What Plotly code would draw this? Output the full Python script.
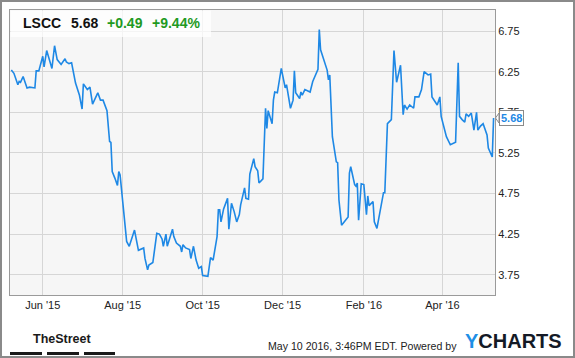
import plotly.graph_objects as go

dates = [
    "2015-05-08", "2015-05-10", "2015-05-13", "2015-05-14", "2015-05-15", "2015-05-17", "2015-05-20", "2015-05-22",
    "2015-05-26", "2015-05-27", "2015-05-29", "2015-06-01", "2015-06-02", "2015-06-04", "2015-06-08", "2015-06-10",
    "2015-06-12", "2015-06-15", "2015-06-18", "2015-06-19", "2015-06-21", "2015-06-23", "2015-06-26", "2015-06-29",
    "2015-07-01", "2015-07-02", "2015-07-05", "2015-07-07", "2015-07-09", "2015-07-13", "2015-07-15", "2015-07-17",
    "2015-07-20", "2015-07-22", "2015-07-23", "2015-07-24", "2015-07-26", "2015-07-28", "2015-07-29", "2015-07-30",
    "2015-08-04", "2015-08-06", "2015-08-10", "2015-08-12", "2015-08-13", "2015-08-17", "2015-08-18", "2015-08-20",
    "2015-08-21", "2015-08-24", "2015-08-27", "2015-08-29", "2015-08-31", "2015-09-01", "2015-09-03", "2015-09-04",
    "2015-09-08", "2015-09-09", "2015-09-11", "2015-09-14", "2015-09-15", "2015-09-16", "2015-09-18", "2015-09-21",
    "2015-09-22", "2015-09-24", "2015-09-26", "2015-09-28", "2015-09-30", "2015-10-01", "2015-10-05", "2015-10-07",
    "2015-10-09", "2015-10-12", "2015-10-13", "2015-10-14", "2015-10-15", "2015-10-17", "2015-10-20", "2015-10-21",
    "2015-10-23", "2015-10-25", "2015-10-27", "2015-10-29", "2015-10-30", "2015-11-02", "2015-11-03", "2015-11-05",
    "2015-11-06", "2015-11-09", "2015-11-10", "2015-11-12", "2015-11-13", "2015-11-16", "2015-11-18", "2015-11-19",
    "2015-11-20", "2015-11-23", "2015-11-24", "2015-11-25", "2015-11-27", "2015-11-30", "2015-12-03", "2015-12-04",
    "2015-12-07", "2015-12-09", "2015-12-10", "2015-12-11", "2015-12-14", "2015-12-15", "2015-12-16", "2015-12-18",
    "2015-12-22", "2015-12-24", "2015-12-28", "2015-12-29", "2015-12-30", "2016-01-04", "2016-01-05", "2016-01-06",
    "2016-01-08", "2016-01-11", "2016-01-12", "2016-01-13", "2016-01-15", "2016-01-20", "2016-01-21", "2016-01-22",
    "2016-01-25", "2016-01-26", "2016-01-27", "2016-01-28", "2016-01-30", "2016-02-01", "2016-02-03", "2016-02-04",
    "2016-02-05", "2016-02-08", "2016-02-09", "2016-02-11", "2016-02-16", "2016-02-17", "2016-02-19", "2016-02-22",
    "2016-02-24", "2016-02-26", "2016-02-27", "2016-02-29", "2016-03-02", "2016-03-03", "2016-03-05", "2016-03-07",
    "2016-03-10", "2016-03-11", "2016-03-14", "2016-03-16", "2016-03-18", "2016-03-21", "2016-03-23", "2016-03-24",
    "2016-03-28", "2016-03-30", "2016-03-31", "2016-04-02", "2016-04-04", "2016-04-07", "2016-04-11", "2016-04-13",
    "2016-04-14", "2016-04-16", "2016-04-18", "2016-04-19", "2016-04-21", "2016-04-23", "2016-04-25", "2016-04-27",
    "2016-04-28", "2016-04-30", "2016-05-02", "2016-05-05", "2016-05-06", "2016-05-09", "2016-05-10",
]

prices = [
    6.27, 6.23, 6.09, 6.13, 6.12, 6.19, 6.05, 6.06,
    6.05, 6.26, 6.26, 6.44, 6.31, 6.51, 6.29, 6.57,
    6.40, 6.34, 6.41, 6.37, 6.35, 6.36, 6.11, 5.96,
    5.79, 6.10, 6.03, 6.06, 5.85, 5.99, 5.90, 5.90,
    5.77, 5.39, 5.38, 5.02, 4.94, 4.85, 5.02, 4.98,
    4.16, 4.10, 4.30, 4.16, 4.05, 4.08, 3.95, 3.81,
    3.87, 3.90, 4.26, 4.25, 4.19, 4.10, 4.25, 4.10,
    4.31, 4.22, 4.14, 4.10, 4.03, 4.12, 4.08, 4.06,
    3.95, 4.10, 3.93, 3.83, 3.85, 3.74, 3.73, 3.96,
    3.93, 4.22, 4.55, 4.55, 4.40, 4.56, 4.69, 4.31,
    4.63, 4.53, 4.40, 4.49, 4.61, 4.82, 4.69, 4.68,
    4.99, 5.18, 5.08, 5.03, 4.88, 4.93, 5.80, 5.55,
    5.77, 5.61, 5.90, 6.00, 5.99, 6.29, 6.05, 6.09,
    5.80, 5.90, 6.26, 5.99, 5.92, 6.00, 5.96, 6.03,
    6.00, 6.13, 6.28, 6.77, 6.52, 6.27, 6.15, 6.21,
    5.45, 5.14, 5.13, 4.67, 4.36, 4.46, 5.00, 5.08,
    4.86, 4.84, 4.88, 4.42, 4.87, 4.86, 4.49, 4.72,
    4.60, 4.65, 4.40, 4.32, 4.76, 4.76, 5.61, 5.66,
    6.51, 6.12, 6.19, 6.33, 5.72, 5.84, 5.79, 5.84,
    5.80, 5.94, 5.94, 6.03, 6.25, 6.21, 6.22, 5.94,
    5.84, 5.94, 5.70, 5.57, 5.45, 5.35, 5.38, 6.36,
    5.70, 5.66, 5.63, 5.73, 5.70, 5.74, 5.53, 5.75,
    5.53, 5.58, 5.61, 5.47, 5.31, 5.20, 5.68,
]

ticker = "LSCC"
last_price = "5.68"
change = "+0.49"
change_pct = "+9.44%"
x_tick_vals = ["2015-06-01", "2015-08-01", "2015-10-01", "2015-12-01", "2016-02-01", "2016-04-01"]
x_tick_text = ["Jun '15", "Aug '15", "Oct '15", "Dec '15", "Feb '16", "Apr '16"]
y_tick_vals = [3.75, 4.25, 4.75, 5.25, 5.75, 6.25, 6.75]
y_tick_text = ["3.75", "4.25", "4.75", "5.25", "5.75", "6.25", "6.75"]
footer_text = "May 10 2016, 3:46PM EDT. Powered by"

LINE = "#1E88E5"
FONT = "Liberation Sans, Arial, sans-serif"

W, H = 575, 358
L, R, T, B = 10, 80, 10, 63
PW, PH = W - L - R, H - T - B


def px(x):
    return (x - L) / PW


def py(y):
    return (H - B - y) / PH


fig = go.Figure()
fig.add_trace(go.Scatter(x=dates, y=prices, mode="lines",
                         line=dict(color=LINE, width=1.6), hoverinfo="skip"))

shapes = []
# outer frame
shapes.append(dict(type="rect", xref="paper", yref="paper", x0=px(1), x1=px(574), y0=py(357), y1=py(1),
                   line=dict(color="#8a8a8a", width=2), fillcolor="rgba(0,0,0,0)", layer="above"))
# header box
shapes.append(dict(type="rect", xref="paper", yref="paper", x0=px(10.5), x1=px(211), y0=py(37), y1=py(10.5),
                   line=dict(width=0), fillcolor="rgba(255,255,255,0.72)", layer="above"))
# TheStreet bars
for a, b in [(10, 42), (47, 79), (84, 115)]:
    shapes.append(dict(type="rect", xref="paper", yref="paper", x0=px(a), x1=px(b), y0=py(355), y1=py(352),
                       line=dict(width=0), fillcolor="#1a1a1a", layer="above"))
# last value pointer
shapes.append(dict(type="path", xref="paper", yref="paper",
                   path=f"M {px(499)} {py(113)} L {px(495.5)} {py(118)} L {px(499)} {py(123)} Z",
                   line=dict(color="#8a8a8a", width=1), fillcolor="white", layer="above"))

ann = []
hy = py(23)
ann.append(dict(text=f"<b>{ticker}</b>", x=px(21), y=hy, xref="paper", yref="paper", xanchor="left",
                yanchor="middle", showarrow=False, font=dict(family=FONT, size=14, color="#111")))
ann.append(dict(text=f"<b>{last_price}</b>", x=px(69), y=hy, xref="paper", yref="paper", xanchor="left",
                yanchor="middle", showarrow=False, font=dict(family=FONT, size=14, color="#111")))
ann.append(dict(text=f"<b>{change}</b>", x=px(105), y=hy, xref="paper", yref="paper", xanchor="left",
                yanchor="middle", showarrow=False, font=dict(family=FONT, size=14, color="#1f9a1f")))
ann.append(dict(text=f"<b>{change_pct}</b>", x=px(150), y=hy, xref="paper", yref="paper", xanchor="left",
                yanchor="middle", showarrow=False, font=dict(family=FONT, size=14, color="#1f9a1f")))
# last value label
ann.append(dict(text=f"<b>{last_price}</b>", x=px(499), y=prices[-1], xref="paper", yref="y", xanchor="left",
                yanchor="middle", showarrow=False, bgcolor="white", bordercolor="#8a8a8a", borderwidth=1,
                borderpad=1, font=dict(family=FONT, size=11, color=LINE)))
# footer
ann.append(dict(text="<b>TheStreet</b>", x=px(62), y=py(339), xref="paper", yref="paper", xanchor="center",
                yanchor="middle", showarrow=False,
                font=dict(family=FONT, size=12.5, color="#1a1a1a")))
ann.append(dict(text=footer_text, x=px(459), y=py(346), xref="paper", yref="paper", xanchor="right",
                yanchor="middle", showarrow=False, font=dict(family=FONT, size=10.6, color="#222")))
ann.append(dict(text="<b><span style='color:#1E8FE6'>Y</span>CHARTS</b>", x=px(463), y=py(341), xref="paper",
                yref="paper", xanchor="left", yanchor="middle", showarrow=False,
                font=dict(family=FONT, size=20, color="#141a26")))

fig.update_layout(
    width=W, height=H,
    margin=dict(l=L, r=R, t=T, b=B),
    paper_bgcolor="white",
    plot_bgcolor="#f6f6f6",
    showlegend=False,
    shapes=shapes,
    annotations=ann,
    xaxis=dict(type="date", range=["2015-05-07", "2016-05-11 02:00"], tickmode="array",
               tickvals=x_tick_vals, ticktext=x_tick_text, showgrid=True, gridcolor="#d6d6d6", gridwidth=1,
               showline=True, linecolor="#9a9a9a", linewidth=1, mirror=True, ticks="",
               tickfont=dict(family=FONT, size=11, color="#222"), zeroline=False),
    yaxis=dict(range=[3.5, 7.01], side="right", tickmode="array", tickvals=y_tick_vals, ticktext=y_tick_text,
               showgrid=True, gridcolor="#d6d6d6", gridwidth=1, showline=True, linecolor="#9a9a9a",
               linewidth=1, mirror=True, ticks="", tickfont=dict(family=FONT, size=11, color="#222"),
               zeroline=False),
)

fig.write_html("out.html", config={"displayModeBar": False})
